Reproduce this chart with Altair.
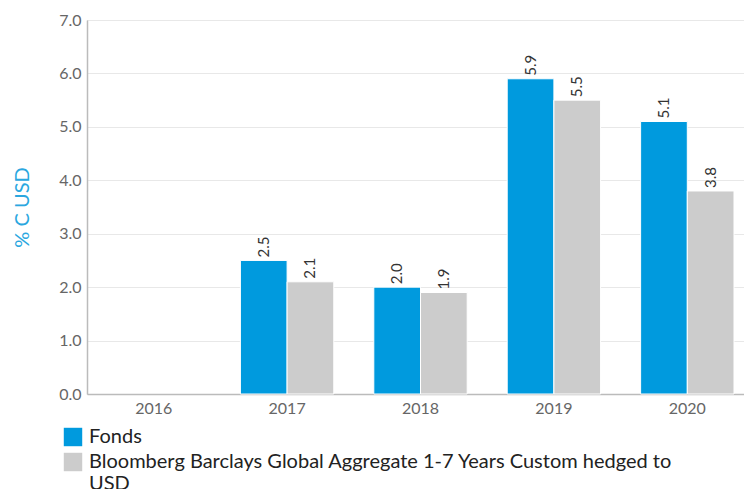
import altair as alt
import pandas as pd

years = ["2016", "2017", "2018", "2019", "2020"]
fonds = [None, 2.5, 2.0, 5.9, 5.1]
bench = [None, 2.1, 1.9, 5.5, 3.8]
series = ["Fonds", "Bloomberg Barclays Global Aggregate 1-7 Years Custom hedged to USD"]
colors = ["#009ade", "#cccccc"]

rows = []
for i, y in enumerate(years):
    rows.append({"year": y, "series": series[0], "value": fonds[i]})
    rows.append({"year": y, "series": series[1], "value": bench[i]})
df = pd.DataFrame(rows)

FONT = "Lato"

x = alt.X("year:N", title=None, sort=years,
          scale=alt.Scale(paddingInner=0.3, paddingOuter=0.15, range=[0, 667]),
          axis=alt.Axis(labelAngle=0, labelFontSize=16, labelColor="#666666",
                        labelFont=FONT, ticks=False, labelPadding=6,
                        domainColor="#bbbbbb", domainWidth=1.5))
y = alt.Y("value:Q", title="% C USD",
          scale=alt.Scale(domain=[0, 7]),
          axis=alt.Axis(values=[0, 1, 2, 3, 4, 5, 6, 7], format=".1f",
                        labelFontSize=16, labelColor="#666666", labelFont=FONT,
                        ticks=False, labelPadding=6, domainColor="#bbbbbb",
                        domainWidth=1.5, gridColor="#e8e8e8",
                        titleColor="#2aa7df", titleFontSize=20, titleFont=FONT,
                        titleFontWeight="normal", titlePadding=26))
xo = alt.XOffset("series:N", sort=series)
color = alt.Color("series:N", sort=series,
                  scale=alt.Scale(domain=series, range=colors),
                  legend=alt.Legend(title=None, orient="none", legendX=-24, legendY=407,
                                    symbolType="square", symbolSize=340,
                                    symbolStrokeWidth=0, labelFontSize=20,
                                    labelFont=FONT, labelColor="#222222",
                                    labelLimit=800, rowPadding=5, labelOffset=6,
                                    labelExpr="datum.label == 'Fonds' ? 'Fonds' : ['Bloomberg Barclays Global Aggregate 1-7 Years Custom hedged to', 'USD']"))

bars = alt.Chart(df).mark_bar(stroke="white", strokeWidth=1).encode(
    x=x, xOffset=xo, y=y, color=color)

labels = alt.Chart(df).mark_text(angle=270, align="left", baseline="middle",
                                 dx=3, fontSize=15, font=FONT, color="#333333").encode(
    x=x, xOffset=xo, y=y, text=alt.Text("value:Q", format=".1f"))

chart = alt.layer(bars, labels).properties(width=657, height=374).configure_view(
    stroke=None).configure(padding={"left": 79, "top": 12, "right": 0, "bottom": 100}, autosize="none")

chart.save("out.html", embed_options={"renderer": "svg", "actions": False})
